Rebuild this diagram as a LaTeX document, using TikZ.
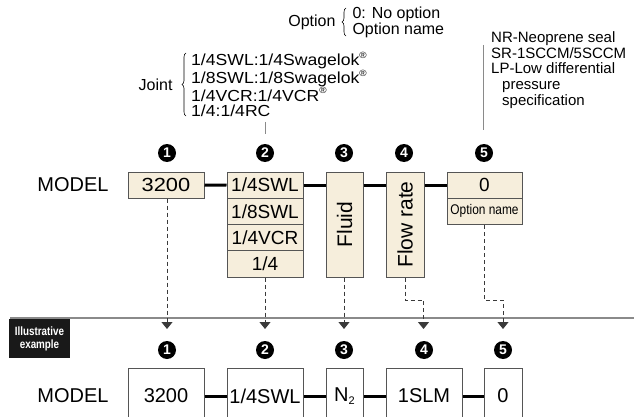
\documentclass[tikz,border=0pt]{standalone}
\usepackage{fontspec}
\setmainfont{Liberation Sans}
\newfontfamily\widefont[FakeStretch=1.1]{Liberation Sans}
\usetikzlibrary{arrows.meta,decorations.pathreplacing}
\definecolor{cream}{HTML}{F6EEDC}
\definecolor{bord}{HTML}{555555}
\definecolor{dgray}{HTML}{3A3A3A}
\definecolor{lgray}{HTML}{8A8A8A}
\newcommand\regm{\raisebox{0.45em}{\fontsize{9}{9}\selectfont ®}}
\begin{document}
\begin{tikzpicture}[x=1pt,y=-1pt,
  fs/.style={font=\fontsize{#1}{#1}\selectfont},
  topbox/.style={draw=bord, fill=cream, line width=1pt, inner sep=0pt, minimum width=#1},
  botbox/.style={draw=bord, fill=white, line width=1pt, inner sep=0pt, minimum width=#1, minimum height=56pt, fs=20},
  numc/.style={circle, fill=black, text=white, inner sep=0pt, minimum size=18pt, font=\fontsize{14}{14}\selectfont\bfseries},
  conn/.style={line width=3pt, black},
  dline/.style={dgray, line width=1pt, dash pattern=on 4pt off 3pt, -{Triangle[width=11pt,length=7pt]}},
  brc/.style={decorate, decoration={brace, amplitude=4pt}, line width=0.6pt},
]
\useasboundingbox (0,0) rectangle (634,417);
\clip (0,0) rectangle (634,417);

% ---------- annotations ----------
\node[fs=16, anchor=east] (opt) at (339,22) {Option};
\draw[brc] (346,36) -- (346,8);
\node[font=\fontsize{16}{14.5}\selectfont, anchor=west, align=left] (optl) at (349,22) {0: No option\\Option name};

\node[fs=16, anchor=east] (joint) at (176,84.5) {Joint};
\draw[brc] (186,116) -- (186,53);
\node[font=\widefont\fontsize{16}{15.8}\selectfont, anchor=west, align=left, inner sep=0pt] (jointl) at (191,84.5)
  {1/4SWL:1/4Swagelok\regm\\1/8SWL:1/8Swagelok\regm\\1/4VCR:1/4VCR\regm\\1/4:1/4RC};
\coordinate (jt) at (265,122);
\coordinate (jb) at (265,134);
\draw[lgray, line width=1pt] (jt) -- (jb);

\node[font=\fontsize{15}{15.6}\selectfont, anchor=west, align=left, inner sep=0pt] (notes) at (491,70)
  {NR-Neoprene seal\\SR-1SCCM/5SCCM\\LP-Low differential\\\hspace*{11pt}pressure\\\hspace*{11pt}specification};
\coordinate (nt) at (483,45);
\coordinate (nb) at (483,130);
\draw[lgray, line width=1pt] (nt) -- (nb);

% ---------- top model row ----------
\foreach \i/\x in {1/167,2/265,3/344,4/404,5/484} \node[numc] (t\i) at (\x,153) {\i};
\node[fs=20] (m1) at (73,185) {MODEL};
\node[topbox=76pt, minimum height=26pt, fs=19] (b1) at (166,185) {\scalebox{1.15}[1]{3200}};
\node[topbox=76pt, minimum height=26.25pt, fs=19] (j1) at (265,185.125) {1/4SWL};
\node[topbox=76pt, minimum height=26.25pt, fs=19] (j2) at (265,211.375) {1/8SWL};
\node[topbox=76pt, minimum height=26.25pt, fs=19] (j3) at (265,237.625) {1/4VCR};
\node[topbox=76pt, minimum height=26.25pt, fs=19] (j4) at (265,263.875) {1/4};
\node[topbox=37pt, minimum height=105pt, fs=21] (fl) at (344.5,224.5) {\rotatebox{90}{Fluid}};
\node[topbox=38pt, minimum height=105pt, fs=21] (fr) at (405,224.5) {\rotatebox{90}{Flow rate}};
\node[topbox=75pt, minimum height=26.25pt, fs=19] (o1) at (484.5,185.125) {0};
\node[topbox=75pt, minimum height=26.25pt, fs=14] (o2) at (484.5,211.375) {\scalebox{0.85}[1]{Option name}};
\draw[conn] (b1.east) -- (j1.west);
\draw[conn] (j1.east) -- (fl.west |- j1.east);
\draw[conn] (fl.east |- j1.east) -- (fr.west |- j1.east);
\draw[conn] (fr.east |- j1.east) -- (o1.west);

% ---------- separator ----------
\coordinate (sl) at (10,318);
\coordinate (sr) at (634,318);
\draw[lgray, line width=1.2pt] (sl) -- (sr);
\node[fill=black!90, text=white, inner sep=0pt, minimum width=61pt, minimum height=39pt, align=center,
  font=\fontsize{12}{13}\selectfont\bfseries] (ill) at (39.5,338.5) {\scalebox{0.82}[1]{Illustrative}\\\scalebox{0.82}[1]{example}};

% ---------- dashed arrows ----------
\coordinate (a1) at (167,329);
\coordinate (a2) at (265,329);
\coordinate (a3) at (344,329);
\coordinate (a4) at (423.5,329);
\coordinate (a5) at (503,329);
\coordinate (k4) at (423.5,300);
\coordinate (k5) at (503,300);
\draw[dline] (b1.south -| a1) -- (a1);
\draw[dline] (j4.south) -- (a2);
\draw[dline] (fl.south -| a3) -- (a3);
\draw[dline] (fr.south) |- (k4) -- (a4);
\draw[dline] (o2.south -| 484,0) |- (k5) -- (a5);

% ---------- bottom example row ----------
\foreach \i/\x in {1/167,2/265,3/344,4/424,5/503} \node[numc] (e\i) at (\x,350) {\i};
\node[fs=20] (m2) at (73,396) {MODEL};
\node[botbox=76pt] (c1) at (166,396) {3200};
\node[botbox=76pt] (c2) at (265,396) {1/4SWL};
\node[botbox=37pt] (c3) at (344.5,396) {N\raisebox{-0.15em}{\fontsize{11}{11}\selectfont 2}};
\node[botbox=76pt] (c4) at (424,396) {1SLM};
\node[botbox=38pt] (c5) at (503,396) {0};
\draw[conn] (c1.east) -- (c2.west);
\draw[conn] (c2.east) -- (c3.west);
\draw[conn] (c3.east) -- (c4.west);
\draw[conn] (c4.east) -- (c5.west);
\end{tikzpicture}
\end{document}
